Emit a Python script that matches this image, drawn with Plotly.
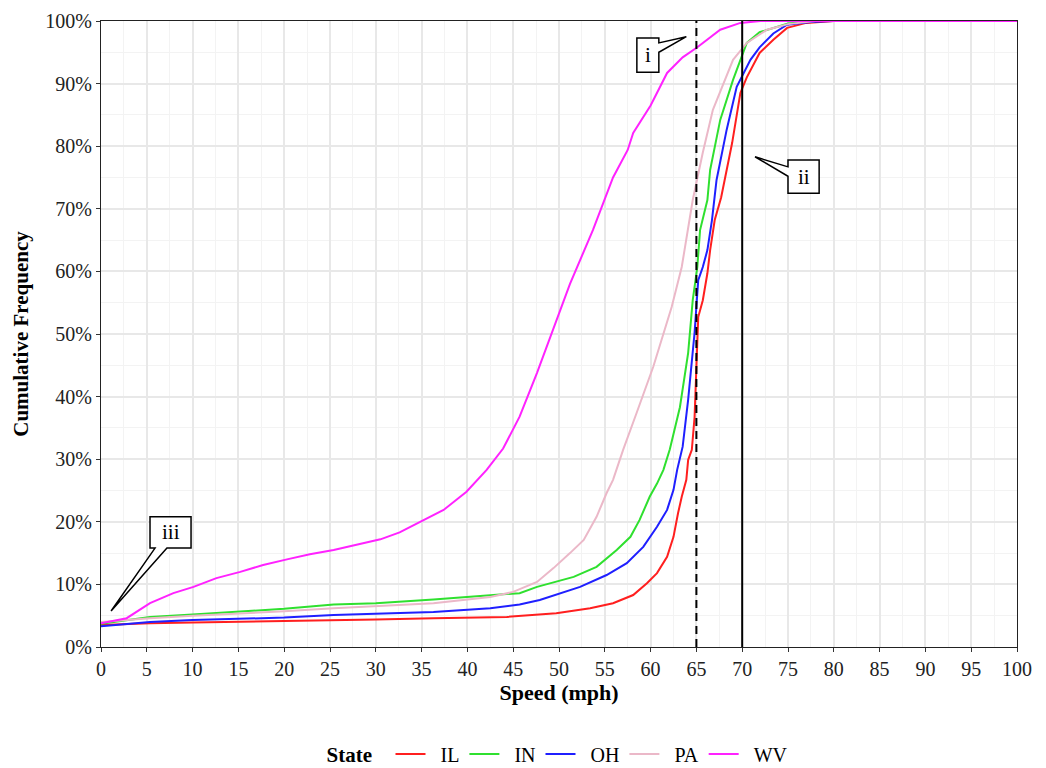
import plotly.graph_objects as go

# Cumulative share of vehicles at or below each speed, by state (percent)
il_speed = [0, 5.35, 10, 20, 25.4, 30, 36.3, 44.3, 49.7, 53.4, 55.9, 58.1, 59.6, 60.7, 61.8, 62.5, 63.0, 63.4,
            63.9, 64.1, 64.5, 64.8, 65.2, 65.7, 66.2, 66.5, 67, 67.7, 68.9, 69.8, 70.5, 71.9, 73.4, 74.9, 77, 80,
            100]
il_cum = [3.5, 3.8, 3.9, 4.1, 4.3, 4.4, 4.6, 4.8, 5.4, 6.2, 7.0, 8.3, 10.2, 11.8, 14.4, 17.6, 21.4, 24.0,
          26.7, 29.9, 31.5, 36.7, 52.7, 55.4, 59.7, 63.4, 68.2, 71.8, 80.5, 88.5, 91.0, 94.9, 97.0, 98.9, 99.7, 100,
          100]

in_speed = [0, 5.35, 10, 15, 20, 25.4, 30, 36.3, 42.5, 45.7, 47.6, 51.6, 54.1, 56.3, 57.8, 58.8, 59.9, 60.7,
            61.4, 62.1, 63.2, 64.1, 64.6, 65.1, 65.4, 66.2, 66.5, 67.6, 69, 70.5, 71.9, 75, 78, 100]
in_cum = [3.7, 4.8, 5.2, 5.7, 6.1, 6.8, 7.0, 7.6, 8.3, 8.6, 9.6, 11.2, 12.8, 15.5, 17.6, 20.3, 24.0, 26.1,
          28.3, 31.6, 38.3, 47.0, 55.4, 60.7, 66.6, 71.4, 76.2, 84.2, 90.6, 96.5, 98.2, 99.6, 100, 100]

oh_speed = [0, 5.35, 10, 20, 25.4, 30, 36.3, 42.5, 45.7, 47.9, 52.3, 55.2, 57.4, 59.2, 60.7, 61.8, 62.5, 62.9,
            63.5, 64.1, 64.8, 65.2, 65.7, 66.2, 66.7, 67.2, 68.3, 69.4, 70.9, 71.9, 73.4, 74.9, 78, 80, 100]
oh_cum = [3.3, 4.0, 4.3, 4.7, 5.1, 5.3, 5.6, 6.2, 6.8, 7.5, 9.6, 11.5, 13.4, 16.0, 19.2, 21.9, 25.1, 28.3,
          32.0, 39.5, 50.2, 58.6, 60.7, 63.4, 68.2, 74.6, 82.6, 89.5, 93.8, 95.8, 98.0, 99.4, 99.9, 100, 100]

pa_speed = [0, 5.35, 10, 20, 25.4, 30, 36.3, 42.5, 45, 47.6, 49.4, 51.2, 52.7, 54.1, 55.2, 55.9, 57, 58.5,
            60.3, 62.3, 63.4, 64.6, 65.7, 66.8, 69, 70.5, 72.7, 75, 78, 100]
pa_cum = [4.0, 4.6, 5.0, 5.7, 6.2, 6.5, 7.0, 8.0, 8.8, 10.4, 12.6, 15.0, 17.1, 20.8, 24.6, 26.7, 31.5, 37.5,
          44.8, 54.3, 60.7, 71.4, 79.0, 85.8, 93.8, 96.5, 98.6, 99.5, 100, 100]

wv_speed = [0, 2.8, 5.35, 7.9, 10.1, 12.6, 15.2, 17.7, 20.3, 22.8, 25.4, 27.9, 30.5, 32.6, 34.8, 37.4, 39.9,
            42.1, 43.9, 45, 45.7, 47.6, 49.3, 51.2, 53.7, 55.9, 57.5, 58.1, 60, 61.8, 63.5, 65.1, 67.6, 69.8, 72,
            100]
wv_cum = [3.8, 4.6, 7.0, 8.6, 9.6, 11.0, 12.0, 13.1, 14.0, 14.8, 15.5, 16.3, 17.2, 18.3, 20.0, 21.9, 24.8,
          28.3, 31.7, 34.7, 36.8, 43.8, 50.5, 58.0, 66.6, 75.0, 79.4, 82.1, 86.5, 91.7, 94.2, 95.8, 98.6, 99.7, 100,
          100]

states = ["IL", "IN", "OH", "PA", "WV"]
colors = ["#ff1f1f", "#2fe02f", "#1f1fff", "#ebb8c8", "#ff22ff"]
series = [(il_speed, il_cum), (in_speed, in_cum), (oh_speed, oh_cum), (pa_speed, pa_cum), (wv_speed, wv_cum)]

# Reference speed limits
limit_dashed = 65
limit_solid = 70

# Callout boxes: label, box (x0, x1, y0, y1), wedge base and tip
callouts = [
    dict(text="i", box=(58.5, 60.9, 0.918, 0.973), side="right", base=(0.965, 0.950), tip=(63.9, 0.975)),
    dict(text="ii", box=(75.0, 78.4, 0.725, 0.778), side="left", base=(0.767, 0.752), tip=(71.4, 0.783)),
    dict(text="iii", box=(5.35, 9.83, 0.158, 0.208), side="bottom", base=(5.9, 7.2), tip=(1.1, 0.0575)),
]

FONT = "Liberation Serif"

fig = go.Figure()
for name, color, (xs, ys) in zip(states, colors, series):
    fig.add_trace(go.Scatter(
        x=xs, y=[v / 100 for v in ys], mode="lines",
        name="\u2002" + name,  # small lead-in gap between key line and label
        line=dict(color=color, width=2),
    ))

fig.add_shape(type="line", x0=limit_dashed, x1=limit_dashed, y0=0, y1=1, xref="x", yref="y",
              line=dict(color="black", width=2, dash="8px,5px"), layer="above")
fig.add_shape(type="line", x0=limit_solid, x1=limit_solid, y0=0, y1=1, xref="x", yref="y",
              line=dict(color="black", width=2), layer="above")


def callout_path(c):
    x0, x1, y0, y1 = c["box"]
    tx, ty = c["tip"]
    b1, b2 = c["base"]
    if c["side"] == "right":
        pts = [(x0, y1), (x1, y1), (x1, b1), (tx, ty), (x1, b2), (x1, y0), (x0, y0)]
    elif c["side"] == "left":
        pts = [(x0, y1), (x1, y1), (x1, y0), (x0, y0), (x0, b2), (tx, ty), (x0, b1)]
    else:
        pts = [(x0, y1), (x1, y1), (x1, y0), (b2, y0), (tx, ty), (b1, y0), (x0, y0)]
    return "M " + " L ".join(f"{px},{py}" for px, py in pts) + " Z"


for c in callouts:
    fig.add_shape(type="path", path=callout_path(c), xref="x", yref="y",
                  fillcolor="white", line=dict(color="black", width=1.5), layer="above")
    x0, x1, y0, y1 = c["box"]
    fig.add_annotation(x=(x0 + x1) / 2, y=(y0 + y1) / 2, xref="x", yref="y", text=c["text"],
                       showarrow=False, font=dict(family=FONT, size=21, color="black"))

fig.update_layout(
    width=1046, height=768,
    margin=dict(l=101, r=29, t=21, b=121, autoexpand=False),
    paper_bgcolor="white", plot_bgcolor="white",
    font=dict(family=FONT, size=20, color="black"),
    showlegend=True,
    legend=dict(
        orientation="h", x=0.5, xanchor="center",
        yref="paper", y=-0.171, yanchor="middle",
        title=dict(text="<b>State</b>  ", side="left", font=dict(size=21)),
        font=dict(size=20), itemwidth=30, traceorder="normal",
    ),
)

fig.update_xaxes(
    range=[0, 100], tickmode="linear", tick0=0, dtick=5,
    showgrid=True, gridcolor="#e8e8e8", gridwidth=1.6,
    minor=dict(dtick=2.5, showgrid=True, gridcolor="#f3f3f3", gridwidth=1),
    showline=True, linecolor="#222", linewidth=1.3, mirror=True,
    ticks="outside", ticklen=4, tickcolor="#333", tickwidth=1.2,
    zeroline=False,
    title=dict(text="<b>Speed (mph)</b>", standoff=4, font=dict(size=22)),
    tickfont=dict(size=20, color="#222"),
)
fig.update_yaxes(
    range=[0, 1], tickmode="linear", tick0=0, dtick=0.1, tickformat=".0%",
    showgrid=True, gridcolor="#e8e8e8", gridwidth=1.6,
    minor=dict(dtick=0.05, showgrid=True, gridcolor="#f3f3f3", gridwidth=1),
    showline=True, linecolor="#222", linewidth=1.3, mirror=True,
    ticks="outside", ticklen=4, tickcolor="#333", tickwidth=1.2,
    zeroline=False,
    title=dict(text="<b>Cumulative Frequency</b>", standoff=10, font=dict(size=21)),
    tickfont=dict(size=20, color="#222"),
)

fig.write_html("out.html")
